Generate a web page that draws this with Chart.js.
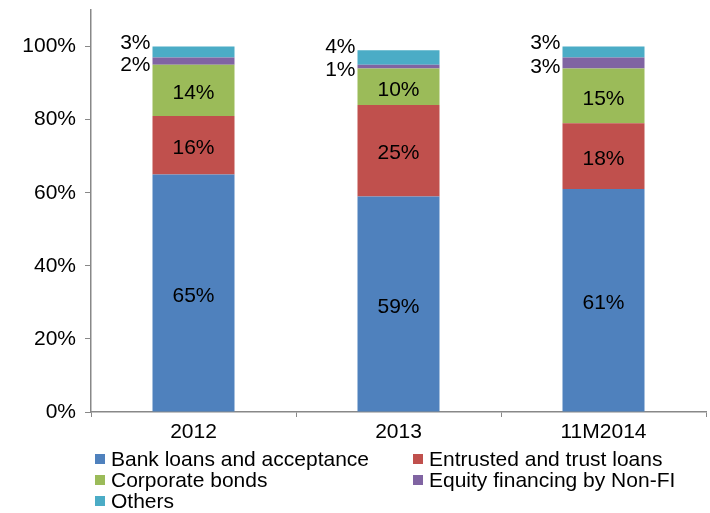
<!DOCTYPE html>
<html>
<head>
<meta charset="utf-8">
<script src="https://cdn.jsdelivr.net/npm/chart.js@4/dist/chart.umd.min.js"></script>
<style>
  html, body { margin: 0; padding: 0; background: #fff; }
  #wrap { position: relative; width: 710px; height: 513px; }
  #legend { position: absolute; left: 0; top: 0; width: 710px; height: 513px; pointer-events: none;
            font-family: "Liberation Sans", Arial, sans-serif; font-size: 21px; color: #000; }
  .item { position: absolute; white-space: nowrap; line-height: 21px; }
  .sw { position: absolute; width: 10px; height: 10px; top: 6px; left: 0; }
  .lbl { position: absolute; left: 16px; top: 0; }
</style>
</head>
<body>
<div id="wrap">
  <canvas id="c" width="710" height="513"></canvas>
  <div id="legend"></div>
</div>
<script>
// Categories and shares of total social financing (%)
const categories = ['2012', '2013', '11M2014'];
const bankLoans = [65, 59, 61];
const entrustedTrust = [16, 25, 18];
const corporateBonds = [14, 10, 15];
const equityNonFI = [2, 1, 3];
const others = [3, 4, 3];

const seriesNames = ['Bank loans and acceptance', 'Entrusted and trust loans', 'Corporate bonds',
                     'Equity financing by Non-FI', 'Others'];
const seriesColors = ['#4F81BD', '#C0504D', '#9BBB59', '#8064A2', '#4BACC6'];
const seriesData = [bankLoans, entrustedTrust, corporateBonds, equityNonFI, others];

const FONT = '"Liberation Sans", Arial, sans-serif';
const FONT_SIZE = 21;

// Percentage labels: inside the large segments, beside the bar for the thin top two
const segmentLabels = {
  id: 'segmentLabels',
  afterDatasetsDraw(chart) {
    const ctx = chart.ctx;
    ctx.save();
    ctx.font = FONT_SIZE + 'px ' + FONT;
    ctx.fillStyle = '#000';
    chart.data.datasets.forEach((ds, di) => {
      const meta = chart.getDatasetMeta(di);
      meta.data.forEach((bar, i) => {
        const txt = ds.data[i] + '%';
        const top = Math.min(bar.y, bar.base);
        const bottom = Math.max(bar.y, bar.base);
        ctx.textBaseline = 'middle';
        if (di <= 2) {
          ctx.textAlign = 'center';
          ctx.fillText(txt, bar.x, (top + bottom) / 2 + 3);
        } else {
          const left = bar.x - bar.width / 2 - 2;
          ctx.textAlign = 'right';
          if (di === 4) {
            ctx.fillText(txt, left, top - 3);
          } else {
            ctx.fillText(txt, left, (top + bottom) / 2 + 4);
          }
        }
      });
    });
    ctx.restore();
  }
};

new Chart(document.getElementById('c'), {
  type: 'bar',
  data: {
    labels: categories,
    datasets: seriesData.map((d, i) => ({
      label: seriesNames[i],
      data: d,
      backgroundColor: seriesColors[i],
      borderWidth: 0,
      barPercentage: 0.4,
      categoryPercentage: 1.0
    }))
  },
  options: {
    responsive: false,
    animation: false,
    devicePixelRatio: 1,
    layout: { padding: { left: 0, right: 4, top: 10, bottom: 0 } },
    plugins: { legend: { display: false }, tooltip: { enabled: false } },
    scales: {
      x: {
        stacked: true,
        grid: { display: true, drawOnChartArea: false, offset: true, tickLength: 5, color: '#888', lineWidth: 1 },
        border: { color: '#888', width: 1.5 },
        ticks: { color: '#000', font: { family: FONT, size: FONT_SIZE }, padding: 3, maxRotation: 0 },
        afterFit(scale) { scale.height = 101; }
      },
      y: {
        stacked: true,
        min: 0,
        max: 110,
        grid: { display: true, drawOnChartArea: false, tickLength: 6, color: '#888', lineWidth: 1 },
        border: { color: '#888', width: 1.5 },
        ticks: {
          stepSize: 20,
          color: '#000',
          font: { family: FONT, size: FONT_SIZE },
          padding: 9,
          callback: (v) => v + '%'
        },
        afterBuildTicks(scale) { scale.ticks = scale.ticks.filter(t => t.value <= 100); },
        afterFit(scale) {
          scale.width = 91;
          scale.paddingTop = 0;
          scale.paddingBottom = 0;
        }
      }
    }
  },
  plugins: [segmentLabels]
});

// Two-column legend under the axis
const legendPos = [[95, 448], [413, 448], [95, 469], [413, 469], [95, 490]];
const legend = document.getElementById('legend');
seriesNames.forEach((name, i) => {
  const item = document.createElement('div');
  item.className = 'item';
  item.style.left = legendPos[i][0] + 'px';
  item.style.top = legendPos[i][1] + 'px';
  const sw = document.createElement('div');
  sw.className = 'sw';
  sw.style.background = seriesColors[i];
  const lbl = document.createElement('div');
  lbl.className = 'lbl';
  lbl.textContent = name;
  item.appendChild(sw);
  item.appendChild(lbl);
  legend.appendChild(item);
});
</script>
</body>
</html>
